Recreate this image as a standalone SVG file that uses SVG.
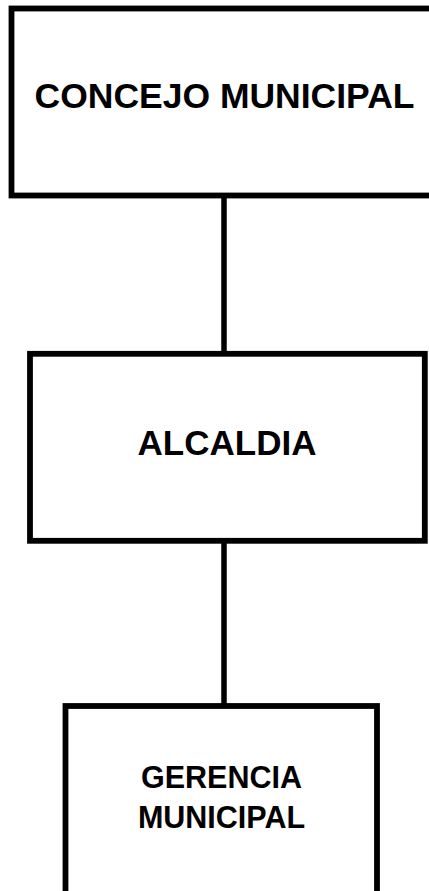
<svg xmlns="http://www.w3.org/2000/svg" width="429" height="891" viewBox="0 0 429 891">
<style>
.box{fill:#fff;stroke:#000;stroke-width:5.8}
.con{stroke:#000;stroke-width:5.5;fill:none}
.t{font-family:"Liberation Sans",Arial,sans-serif;font-weight:bold;fill:#000;text-anchor:middle}
</style>
<rect width="429" height="891" fill="#fff"/>
<g id="connectors">
<line class="con" x1="224" y1="196" x2="224" y2="354"/>
<line class="con" x1="224" y1="541" x2="224" y2="706"/>
</g>
<g id="concejo">
<rect class="box" x="11.5" y="8.5" width="430" height="187"/>
<text class="t" x="224.5" y="107.5" font-size="35" textLength="380" lengthAdjust="spacingAndGlyphs">CONCEJO MUNICIPAL</text>
</g>
<g id="alcaldia">
<rect class="box" x="30" y="353.8" width="394.8" height="187"/>
<text class="t" x="227" y="455" font-size="35">ALCALDIA</text>
</g>
<g id="gerencia">
<rect class="box" x="65.5" y="706" width="311.5" height="200"/>
<text class="t" x="221.5" y="788" font-size="30.5">GERENCIA</text>
<text class="t" x="221.5" y="828" font-size="30.5">MUNICIPAL</text>
</g>
</svg>
